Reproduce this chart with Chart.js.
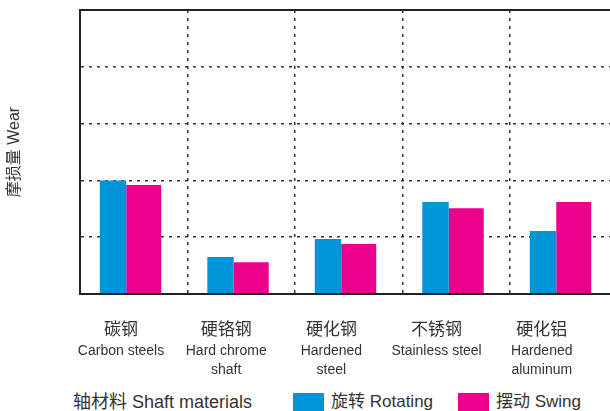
<!DOCTYPE html>
<html>
<head>
<meta charset="utf-8">
<script src="https://cdn.jsdelivr.net/npm/chart.js@4/dist/chart.umd.min.js"></script>
<style>
  html, body { margin: 0; padding: 0; background: #fff; overflow: hidden; width: 610px; height: 411px; }
  #wrap { position: relative; width: 610px; height: 411px; }
  #chart { position: absolute; left: 0; top: 0; }
  .lg { position: absolute; font: 18px "Liberation Sans", "Noto Sans CJK SC", sans-serif; color: #333; line-height: 20px; white-space: nowrap; }
  .lg.item { font-size: 17px; }
  .sw { position: absolute; width: 31px; height: 19px; }
</style>
</head>
<body>
<div id="wrap">
  <canvas id="chart" width="620" height="385"></canvas>
  <div id="legend"></div>
</div>
<script>
// materiales (eje x)
const catsCn = ['碳钢', '硬铬钢', '硬化钢', '不锈钢', '硬化铝'];
const catsEn = [['Carbon steels'], ['Hard chrome', 'shaft'], ['Hardened', 'steel'], ['Stainless steel'], ['Hardened', 'aluminum']];

// series
const rotating = [2.0, 0.65, 0.97, 1.62, 1.11];
const swing    = [1.92, 0.56, 0.88, 1.51, 1.62];
const seriesNames = ['旋转 Rotating', '摆动 Swing'];
const seriesColors = ['#0095d8', '#ec008c'];

const yTitle = '摩损量 Wear';
const xTitle = '轴材料 Shaft materials';

const FONT = '"Liberation Sans", "Noto Sans CJK SC", sans-serif';
const INK = '#333';

// ticks fijos 0..4 para las filas de etiquetas
const labelTicks = (s) => { s.ticks = catsCn.map((_, i) => ({ value: i })); };

new Chart(document.getElementById('chart'), {
  type: 'bar',
  data: {
    labels: catsCn,
    datasets: [
      { label: seriesNames[0], data: rotating, backgroundColor: seriesColors[0],
        categoryPercentage: 0.771, barPercentage: 0.638 },
      { label: seriesNames[1], data: swing, backgroundColor: seriesColors[1],
        categoryPercentage: 0.372, barPercentage: 1.75 }
    ]
  },
  options: {
    responsive: false,
    animation: false,
    layout: { padding: { top: 10, right: 2.5, left: 0, bottom: 0 } },
    plugins: { legend: { display: false }, tooltip: { enabled: false } },
    scales: {
      x: {
        type: 'category',
        position: 'bottom',
        weight: 0,
        ticks: { display: false },
        grid: { offset: true, drawTicks: false, color: '#333', lineWidth: 1.5 },
        border: { display: true, color: '#222', width: 2, dash: [3, 5], z: 1 },
        afterFit: (s) => { s.height = 0; }
      },
      xa: {
        type: 'linear',
        position: 'bottom',
        weight: 1,
        offset: false,
        bounds: 'data',
        min: -0.39, max: 4.72,
        afterBuildTicks: labelTicks,
        ticks: {
          autoSkip: false, maxRotation: 0, padding: 26, color: INK,
          font: { family: FONT, size: 17, lineHeight: 1.2 },
          callback: (v) => catsCn[v]
        },
        grid: { display: false, drawTicks: false },
        border: { display: false },
        afterFit: (s) => { s.height = 46; }
      },
      xb: {
        type: 'linear',
        position: 'bottom',
        weight: 2,
        offset: false,
        bounds: 'data',
        min: -0.39, max: 4.72,
        afterBuildTicks: labelTicks,
        ticks: {
          autoSkip: false, maxRotation: 0, padding: 2, color: INK,
          font: { family: FONT, size: 14, lineHeight: 1.32 },
          callback: (v) => catsEn[v]
        },
        grid: { display: false, drawTicks: false },
        border: { display: false },
        afterFit: (s) => { s.height = 45; }
      },
      y: {
        min: 0, max: 5,
        ticks: { display: false, stepSize: 1 },
        grid: {
          drawTicks: false,
          color: (c) => c.tick && c.tick.value === 0 ? 'rgba(0,0,0,0)' : (c.tick && c.tick.value === 5 ? '#222' : '#333'),
          lineWidth: (c) => c.tick && c.tick.value === 5 ? 2 : 1.5
        },
        border: {
          display: true, color: '#222', width: 2,
          dash: (c) => c.tick && c.tick.value === 5 ? [] : [3, 5]
        },
        title: {
          display: true, text: yTitle, color: INK,
          font: { family: FONT, size: 16, lineHeight: 1.2 },
          padding: { top: 5, bottom: 0 }
        },
        afterFit: (s) => { s.width = 80; }
      }
    }
  }
});

// leyenda de abajo
(function () {
  const lg = document.getElementById('legend');
  const t = document.createElement('div');
  t.className = 'lg';
  t.style.left = '73px'; t.style.top = '392px';
  t.textContent = xTitle;
  lg.appendChild(t);
  const boxX = [293, 458];
  seriesNames.forEach((name, i) => {
    const sw = document.createElement('div');
    sw.className = 'sw';
    sw.style.left = boxX[i] + 'px'; sw.style.top = '393px';
    sw.style.background = seriesColors[i];
    lg.appendChild(sw);
    const tx = document.createElement('div');
    tx.className = 'lg item';
    tx.style.left = (boxX[i] + 38) + 'px'; tx.style.top = '392px';
    tx.textContent = name;
    lg.appendChild(tx);
  });
})();
</script>
</body>
</html>
